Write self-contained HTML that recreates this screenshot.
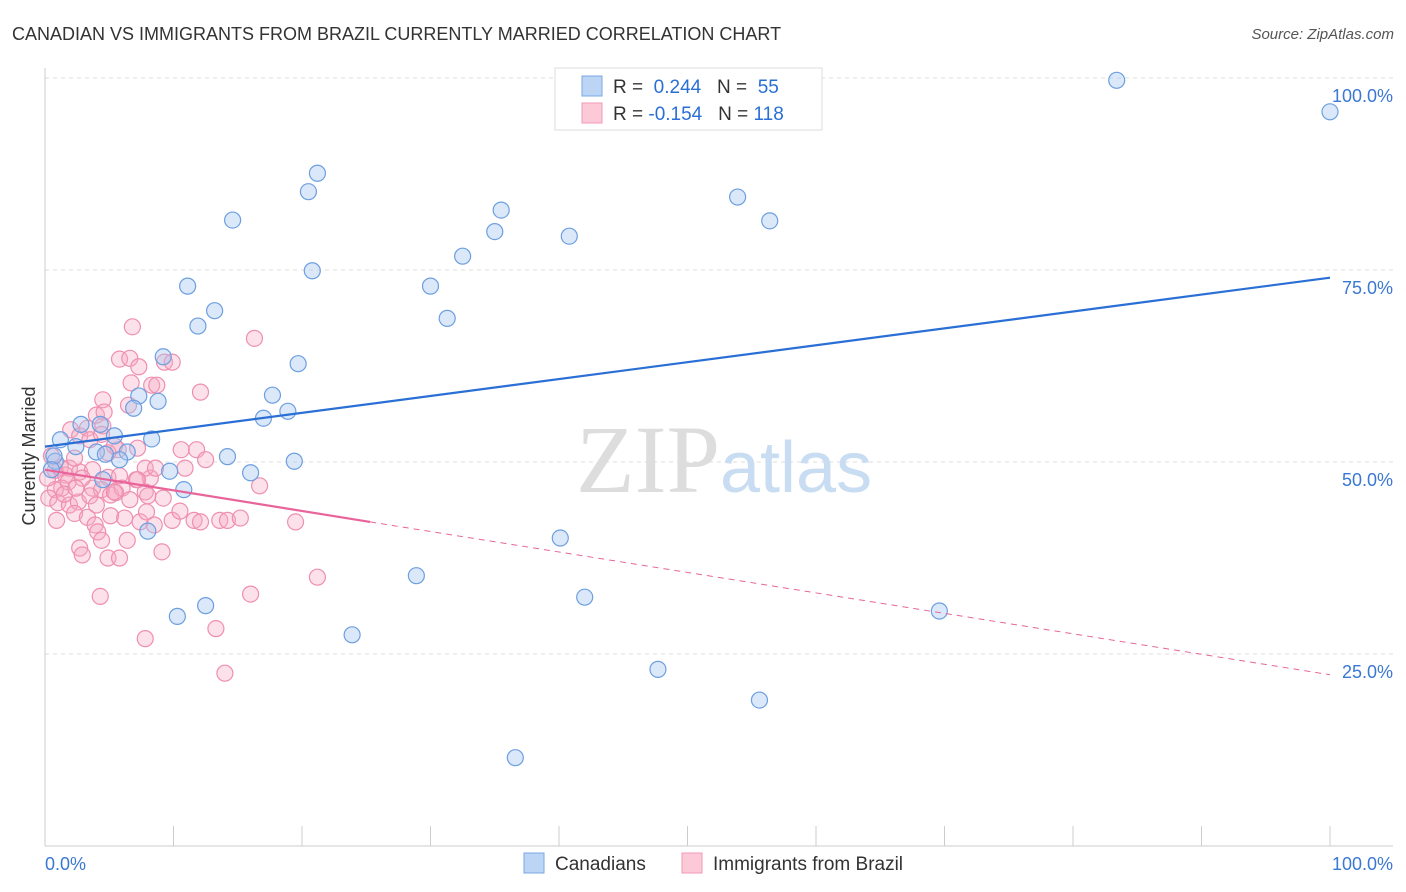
<!DOCTYPE html>
<html><head><meta charset="utf-8"><style>
body{margin:0;background:#fff;font-family:"Liberation Sans",sans-serif;}
</style></head><body>
<svg id="c" width="1406" height="892" xmlns="http://www.w3.org/2000/svg" style="display:block">
<text x="12" y="40" font-size="18" fill="#333">CANADIAN VS IMMIGRANTS FROM BRAZIL CURRENTLY MARRIED CORRELATION CHART</text>
<text x="1394" y="39" font-size="15" fill="#555" font-style="italic" text-anchor="end">Source: ZipAtlas.com</text>
<text x="35" y="456" font-size="18" fill="#333" transform="rotate(-90 35 456)" text-anchor="middle">Currently Married</text>
<g id="grid"></g>
<text x="720" y="492" font-size="96" fill="#ddd" font-family="Liberation Serif" text-anchor="end">ZIP</text>
<text x="720" y="492" font-size="72" fill="#c8dcf2">atlas</text>
<g id="marks"></g>
<g>
<rect x="555" y="68" width="267" height="62" fill="#fff" stroke="#ddd"/>
<rect x="582" y="76" width="20" height="20" fill="#bcd5f5" stroke="#7aa8e4"/>
<rect x="582" y="103" width="20" height="20" fill="#fbc9d8" stroke="#f09ab5"/>
<text x="613" y="93" font-size="19" fill="#333">R = <tspan fill="#2a6fd6">&#160;0.244</tspan>&#160;&#160;&#160;N = <tspan fill="#2a6fd6">&#160;55</tspan></text>
<text x="613" y="120" font-size="19" fill="#333">R = <tspan fill="#2a6fd6">-0.154</tspan>&#160;&#160;&#160;N = <tspan fill="#2a6fd6">118</tspan></text>
</g>
<g>
<rect x="524" y="853" width="20" height="20" fill="#bcd5f5" stroke="#7aa8e4"/>
<text x="555" y="870" font-size="19" fill="#333">Canadians</text>
<rect x="682" y="853" width="20" height="20" fill="#fbc9d8" stroke="#f09ab5"/>
<text x="713" y="870" font-size="19" fill="#333">Immigrants from Brazil</text>
</g>
</svg>
<script>
const yTicks=[25,50,75,100];
const yTickLabels=["25.0%","50.0%","75.0%","100.0%"];
const blueX=[83.4,100,21.2,20.5,53.9,35.5,14.6,56.4,35.0,40.8,32.5,20.8,11.1,30.0,13.2,11.9,31.3,9.2,19.7,17.7,7.3,8.8,6.9,18.9,17.0,2.8,4.3,1.2,5.4,8.3,2.4,4.0,6.4,5.8,14.2,19.4,9.7,16.0,0.8,4.5,10.8,8.0,40.1,28.9,42.0,69.6,12.5,10.3,23.9,47.7,55.6,36.6,0.7,4.7,0.5];
const blueY=[99.7,95.6,87.6,85.2,84.5,82.8,81.5,81.4,80.0,79.4,76.8,74.9,72.9,72.9,69.7,67.7,68.7,63.7,62.8,58.7,58.6,57.9,57.0,56.6,55.7,54.9,54.9,52.9,53.4,53.0,52.0,51.3,51.3,50.3,50.7,50.1,48.8,48.6,50.1,47.7,46.4,41.0,40.1,35.2,32.4,30.6,31.3,29.9,27.5,23.0,19.0,11.5,50.8,51.0,49.0];
const pinkX=[6.8,16.3,5.8,6.6,9.3,9.9,7.3,6.7,8.3,8.7,12.1,4.5,6.5,4.0,4.6,2.0,2.7,3.3,3.5,4.5,7.2,5.7,4.9,10.6,11.8,1.2,0.8,1.6,1.9,2.7,3.7,4.9,5.8,8.2,7.8,10.9,12.5,8.6,1.3,1.8,0.8,0.3,1.0,1.9,2.6,3.7,4.4,5.1,5.5,6.0,7.8,7.1,16.7,2.3,3.3,3.9,5.1,6.2,7.4,7.9,8.5,9.9,10.5,11.6,12.1,13.6,14.2,15.2,19.5,0.9,4.1,4.4,6.4,2.7,2.9,4.9,5.8,9.1,8.0,9.2,4.3,21.2,16.0,7.8,13.3,14.0,3.5,2.9,1.5,2.4,0.2,0.5,5.4,2.3,4.4,6.6,7.2,5.4,4.0];
const pinkY=[67.6,66.1,63.4,63.5,63.0,63.0,62.4,60.3,60.0,60.0,59.1,58.1,57.4,56.1,56.5,54.2,53.4,54.4,52.9,54.7,51.8,51.6,51.2,51.6,51.6,49.3,48.9,48.3,49.2,48.7,49.0,48.0,48.2,47.9,49.2,49.2,50.3,49.2,46.6,47.4,46.4,45.3,44.7,44.4,44.8,46.6,46.4,45.7,46.0,46.6,46.1,47.7,46.9,43.3,42.8,41.8,43.0,42.7,42.2,43.5,41.8,42.4,43.6,42.4,42.2,42.4,42.4,42.7,42.2,42.4,40.9,39.8,39.8,38.8,37.9,37.5,37.5,38.3,45.6,45.3,32.5,35.0,32.8,27.0,28.3,22.5,45.6,47.9,45.8,46.6,47.9,50.8,52.1,50.5,53.6,45.1,47.7,46.1,44.4];
const X0=45,X1=1330,Y0=846,PY=7.68;
const xs=v=>X0+(X1-X0)*v/100, ys=v=>Y0-PY*v;
const NS="http://www.w3.org/2000/svg";
const svg=document.getElementById('c'),grid=document.getElementById('grid'),marks=document.getElementById('marks');
function mk(tag,attrs,parent){const e=document.createElementNS(NS,tag);for(const k in attrs)e.setAttribute(k,attrs[k]);parent.appendChild(e);return e;}
yTicks.forEach((t,i)=>{
 const l=mk('line',{x1:45,x2:1393,y1:ys(t),y2:ys(t),stroke:'#ddd','stroke-dasharray':'4,4'},grid);
 
 
 const tx=mk('text',{x:1393,y:ys(t)+24,'font-size':18,fill:'#3a78d4','text-anchor':'end'},grid);
 tx.textContent=yTickLabels[i];
 
 
});
mk('line',{x1:45,x2:45,y1:68,y2:846,stroke:'#ccc'},grid);
mk('line',{x1:45,x2:1393,y1:846,y2:846,stroke:'#ccc'},grid);
for(let i=0;i<=10;i++){const t=mk('line',{x1:xs(i*10),x2:xs(i*10),y1:826,y2:846,stroke:'#ccc'},grid);
 
 }
const xl0=mk('text',{x:45,y:870,'font-size':18,fill:'#3a78d4'},grid);xl0.textContent='0.0%';


const xl1=mk('text',{x:1393,y:870,'font-size':18,fill:'#3a78d4','text-anchor':'end'},grid);xl1.textContent='100.0%';


pinkX.forEach((v,i)=>{const c=mk('circle',{cx:xs(v),cy:ys(pinkY[i]),r:8,fill:'rgba(246,170,196,0.35)',stroke:'#ef8fb0','stroke-width':1.2},marks);
 
 });
blueX.forEach((v,i)=>{const c=mk('circle',{cx:xs(v),cy:ys(blueY[i]),r:8,fill:'rgba(165,198,240,0.4)',stroke:'#6d9fe0','stroke-width':1.2},marks);
 
 });
const bl=mk('line',{x1:xs(0),y1:ys(52.0),x2:xs(100),y2:ys(74.0),stroke:'#2a6fd6','stroke-width':2.2},marks);


const pl=mk('line',{x1:xs(0),y1:ys(49.0),x2:xs(25.3),y2:ys(42.2),stroke:'#e8649a','stroke-width':2.2},marks);


const pd=mk('line',{x1:xs(25.3),y1:ys(42.2),x2:xs(100),y2:ys(22.3),stroke:'#e8649a','stroke-width':1,'stroke-dasharray':'6,5'},marks);


</script>
</body></html>
